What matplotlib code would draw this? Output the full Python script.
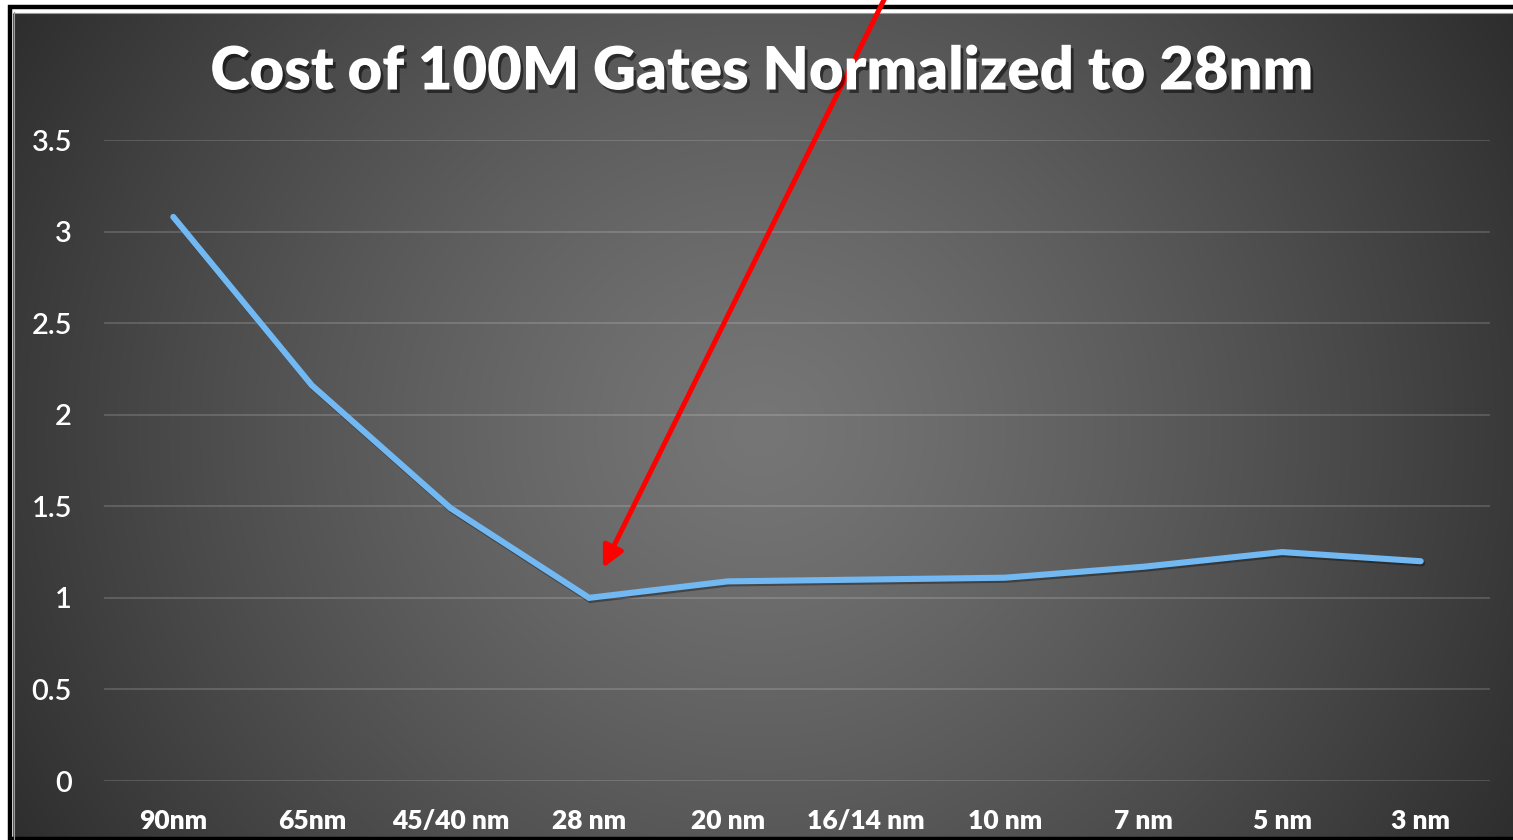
import numpy as np
import matplotlib
matplotlib.use("Agg")
import matplotlib.pyplot as plt
import matplotlib.patheffects as pe
from matplotlib.patches import Rectangle

# Process nodes and normalized cost of 100M gates (28 nm = 1.0)
nodes = ["90nm", "65nm", "45/40 nm", "28 nm", "20 nm", "16/14 nm",
         "10 nm", "7 nm", "5 nm", "3 nm"]
cost = [3.08, 2.16, 1.49, 1.00, 1.09, 1.10, 1.11, 1.17, 1.25, 1.20]
y_ticks = [0, 0.5, 1, 1.5, 2, 2.5, 3, 3.5]
y_tick_labels = ["0", "0.5", "1", "1.5", "2", "2.5", "3", "3.5"]
title = "Cost of 100M Gates Normalized to 28nm"

W, H = 1513, 840
plt.rcParams["font.family"] = ["Lato", "DejaVu Sans"]
fig = plt.figure(figsize=(W / 100, H / 100), dpi=100, facecolor="white")

# Dark radial-gradient backdrop of the chart area
bg = fig.add_axes([0, 0, 1, 1], zorder=0)
bg.set_axis_off()
yy, xx = np.mgrid[0:H, 0:W]
d = np.sqrt((xx - 760.0) ** 2 + ((yy - 430.0) * 1.05) ** 2)
v = 118 - 74 * np.clip(d / 880.0, 0, 1) ** 1.25
img = np.dstack([v, v, v]) / 255.0
bg.imshow(img, extent=(0, W, H, 0), aspect="auto", interpolation="bilinear")
bg.set_xlim(0, W)
bg.set_ylim(H, 0)
# white mat outside the chart plus a thin black frame
bg.add_patch(Rectangle((0, 0), W, 12, color="white", zorder=2))
bg.add_patch(Rectangle((0, 0), 12, H, color="white", zorder=2))
bg.plot([8, W], [6.5, 6.5], color="black", lw=3.2, zorder=3, solid_capstyle="butt")
bg.plot([10, 10], [5, H], color="black", lw=3.2, zorder=3, solid_capstyle="butt")
bg.plot([8, W], [838.5, 838.5], color="black", lw=3.2, zorder=3, solid_capstyle="butt")
bg.plot([13, W], [12.5, 12.5], color="#9a9a9a", lw=0.8, zorder=3)
bg.plot([13.5, 13.5], [12, H], color="#9a9a9a", lw=0.8, zorder=3)

# Plot area
ax = fig.add_axes([104 / W, (H - 781) / H, (1490 - 104) / W, (781 - 140) / H], zorder=1)
ax.patch.set_alpha(0)
x = np.arange(len(nodes))
ax.plot(x, cost, color="#72b8f2", lw=4.4, solid_joinstyle="miter",
        solid_capstyle="round", zorder=3,
        path_effects=[pe.SimpleLineShadow(offset=(1, -1.5), shadow_color="black", alpha=0.35),
                      pe.Normal()])
ax.set_xlim(-0.5, len(nodes) - 0.5)
ax.set_ylim(0, 3.5)
ax.set_yticks(y_ticks)
ax.set_yticklabels(y_tick_labels)
ax.set_xticks(x)
ax.set_xticklabels(nodes)
ax.grid(axis="y", color="white", alpha=0.17, lw=1.3)
ax.set_axisbelow(True)
for s in ax.spines.values():
    s.set_visible(False)
ax.tick_params(axis="both", length=0)
ax.tick_params(axis="y", pad=23, labelsize=21, labelcolor="white")
ax.tick_params(axis="x", pad=20, labelsize=19, labelcolor="white")
for lab in ax.get_xticklabels():
    lab.set_fontweight("heavy")
for lab in ax.get_yticklabels():
    lab.set_fontweight("semibold")

# Title with a soft drop shadow
fig.text(762 / W, 1 - 72 / H, title, ha="center", va="center", color="white",
         fontsize=43, fontweight="heavy",
         path_effects=[pe.withSimplePatchShadow(offset=(2, -2.5), shadow_rgbFace="black", alpha=0.5)])

# Red arrow pointing at the 28 nm minimum
ax.annotate("", xy=(3.10, 1.163), xytext=(5.15, 4.30), annotation_clip=False,
            arrowprops=dict(arrowstyle="-|>", color="#ff0000", lw=3.6,
                            mutation_scale=32, shrinkA=0, shrinkB=0),
            zorder=5)

fig.savefig("out.png", dpi=100, facecolor="white")
